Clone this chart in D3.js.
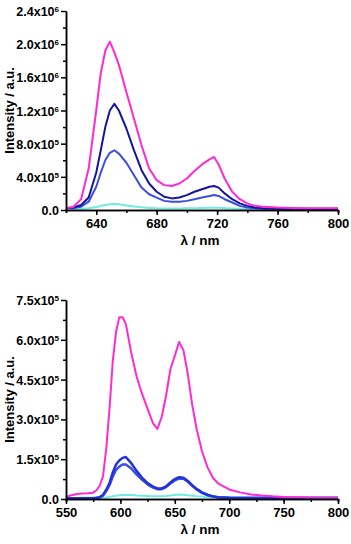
<!DOCTYPE html>
<html>
<head>
<meta charset="utf-8">
<script src="https://cdn.jsdelivr.net/npm/d3@7"></script>
<style>
    body { margin: 0; background: #fff; }
    svg text { font-family: "Liberation Sans", Arial, sans-serif; font-weight: bold; }
</style>
</head>
<body>
<div id="chart"></div>
<script>
// ---- top panel data (wavelength nm, intensity a.u.) ----
const topWl = [620, 625, 630, 635, 640, 643, 646, 649, 652, 655, 660, 665, 670, 675, 680, 685, 690, 695,
    700, 705, 710, 715, 718, 721, 725, 730, 735, 740, 745, 750, 760, 770, 780, 790, 800];
const topMagenta = [0.02, 0.04, 0.13, 0.5, 1.2, 1.65, 1.92, 2.03, 1.9, 1.75, 1.42, 1.1, 0.78, 0.5, 0.36, 0.3, 0.29, 0.32,
    0.38, 0.47, 0.55, 0.61, 0.64, 0.55, 0.38, 0.22, 0.13, 0.08, 0.05, 0.04, 0.03, 0.025, 0.02, 0.02, 0.02].map(v => v * 1e6);
const topNavy = [0.02, 0.03, 0.06, 0.15, 0.45, 0.72, 1.0, 1.2, 1.28, 1.2, 0.98, 0.72, 0.48, 0.32, 0.22, 0.16, 0.14, 0.15,
    0.18, 0.22, 0.25, 0.28, 0.29, 0.27, 0.2, 0.13, 0.08, 0.05, 0.03, 0.02, 0.015, 0.015, 0.015, 0.015, 0.015].map(v => v * 1e6);
const topBlue = [0.02, 0.025, 0.04, 0.1, 0.28, 0.45, 0.6, 0.69, 0.72, 0.68, 0.57, 0.42, 0.27, 0.19, 0.15, 0.11, 0.1, 0.1,
    0.11, 0.13, 0.15, 0.17, 0.18, 0.17, 0.13, 0.09, 0.05, 0.03, 0.02, 0.015, 0.012, 0.012, 0.012, 0.012, 0.012].map(v => v * 1e6);
const topCyan = [0.01, 0.012, 0.015, 0.02, 0.035, 0.05, 0.06, 0.07, 0.072, 0.068, 0.055, 0.042, 0.032, 0.025, 0.02, 0.018, 0.018, 0.018,
    0.02, 0.022, 0.024, 0.026, 0.027, 0.026, 0.022, 0.018, 0.015, 0.013, 0.012, 0.012, 0.01, 0.01, 0.01, 0.01, 0.01].map(v => v * 1e6);
const topXTicks = [640, 680, 720, 760, 800];
const topYTicks = [0, 4e5, 8e5, 1.2e6, 1.6e6, 2.0e6, 2.4e6];
const topYLabels = [["0.0", ""], ["4.0x10", "5"], ["8.0x10", "5"], ["1.2x10", "6"], ["1.6x10", "6"], ["2.0x10", "6"], ["2.4x10", "6"]];

// ---- bottom panel data ----
const botWl = [550, 555, 560, 565, 570, 575, 578, 581, 584, 587, 590, 593, 596, 599, 602, 605, 610, 615, 620, 625,
    630, 634, 638, 642, 646, 650, 654, 658, 662, 666, 670, 675, 680, 685, 690, 700, 710, 720, 730, 740, 750, 760, 770, 780, 790, 800];
const botMagenta = [0.08, 0.14, 0.19, 0.21, 0.22, 0.24, 0.33, 0.5, 0.85, 1.9, 3.4, 5.2, 6.3, 6.85, 6.85, 6.6, 5.5, 4.6, 3.95, 3.4,
    2.85, 2.64, 3.1, 3.9, 4.9, 5.4, 5.92, 5.6, 4.7, 3.55, 2.65, 1.8, 1.2, 0.8, 0.58, 0.36, 0.25, 0.17, 0.13, 0.1, 0.08, 0.07, 0.06, 0.05, 0.05, 0.05].map(v => v * 1e5);
const botNavy = [0.03, 0.03, 0.03, 0.03, 0.03, 0.04, 0.05, 0.07, 0.15, 0.35, 0.6, 1.0, 1.3, 1.45, 1.55, 1.58, 1.35, 1.05, 0.8, 0.6,
    0.47, 0.4, 0.4, 0.48, 0.62, 0.75, 0.82, 0.8, 0.68, 0.52, 0.38, 0.25, 0.16, 0.1, 0.07, 0.05, 0.04, 0.04, 0.04, 0.04, 0.04, 0.04, 0.04, 0.04, 0.04, 0.04].map(v => v * 1e5);
const botBlue = [0.03, 0.03, 0.03, 0.03, 0.03, 0.03, 0.04, 0.06, 0.13, 0.3, 0.52, 0.85, 1.1, 1.22, 1.3, 1.3, 1.15, 0.92, 0.72, 0.55,
    0.43, 0.37, 0.37, 0.45, 0.58, 0.7, 0.77, 0.76, 0.65, 0.5, 0.36, 0.23, 0.15, 0.09, 0.06, 0.045, 0.04, 0.04, 0.04, 0.04, 0.04, 0.04, 0.04, 0.04, 0.04, 0.04].map(v => v * 1e5);
const botCyan = [0.04, 0.04, 0.04, 0.045, 0.045, 0.05, 0.05, 0.05, 0.05, 0.06, 0.08, 0.1, 0.12, 0.14, 0.15, 0.16, 0.15, 0.13, 0.12, 0.11,
    0.1, 0.1, 0.1, 0.11, 0.13, 0.15, 0.17, 0.16, 0.14, 0.12, 0.1, 0.09, 0.08, 0.075, 0.07, 0.06, 0.06, 0.06, 0.06, 0.06, 0.06, 0.06, 0.06, 0.06, 0.06, 0.06].map(v => v * 1e5);
const botXTicks = [550, 600, 650, 700, 750, 800];
const botYTicks = [0, 1.5e5, 3.0e5, 4.5e5, 6.0e5, 7.5e5];
const botYLabels = [["0.0", ""], ["1.5x10", "5"], ["3.0x10", "5"], ["4.5x10", "5"], ["6.0x10", "5"], ["7.5x10", "5"]];

const colors = { magenta: "#ff2ad4", navy: "#1414a0", blue: "#3a4fe0", blue2: "#2233d8", cyan: "#70ece0" };

const svg = d3.select("#chart").append("svg")
    .attr("width", 351)
    .attr("height", 544);

function drawPanel(p) {
    const x = d3.scaleLinear().domain(p.xDomain).range([66, 338]);
    const y = d3.scaleLinear().domain(p.yDomain).range([p.bottom, p.top]);
    const g = svg.append("g");

    // series
    const line = d3.line()
        .x((d, i) => x(p.wl[i]))
        .y(d => y(d));
    p.series.forEach(s => {
        g.append("path")
            .datum(s.values)
            .attr("fill", "none")
            .attr("stroke", s.color)
            .attr("stroke-width", s.width || 2)
            .attr("stroke-linejoin", "round")
            .attr("d", line);
    });

    // minor ticks x
    const xMinor = [];
    for (let v = p.xDomain[0]; v <= p.xDomain[1]; v += p.xMinorStep) xMinor.push(v);
    g.append("g")
        .attr("transform", "translate(0," + p.bottom + ")")
        .call(d3.axisBottom(x).tickValues(xMinor).tickSize(3).tickFormat(""))
        .call(a => a.selectAll("path, line").attr("stroke", "#000").attr("stroke-width", 1.5));

    // major x axis
    const xAxis = g.append("g")
        .attr("transform", "translate(0," + p.bottom + ")")
        .call(d3.axisBottom(x).tickValues(p.xTicks).tickSize(5).tickSizeOuter(0).tickPadding(4));
    xAxis.selectAll("path, line").attr("stroke", "#000").attr("stroke-width", 1.5);
    xAxis.selectAll("text").attr("font-size", 13).attr("fill", "#000");

    // minor y ticks
    const yMinor = [];
    for (let i = 0; i < p.yTicks.length - 1; i++) yMinor.push((p.yTicks[i] + p.yTicks[i + 1]) / 2);
    g.append("g")
        .attr("transform", "translate(66,0)")
        .call(d3.axisLeft(y).tickValues(yMinor).tickSize(3).tickFormat("").tickSizeOuter(0))
        .call(a => a.selectAll("path, line").attr("stroke", "#000").attr("stroke-width", 1.5));

    // major y axis
    const yAxis = g.append("g")
        .attr("transform", "translate(66,0)")
        .call(d3.axisLeft(y).tickValues(p.yTicks).tickSize(5).tickSizeOuter(0).tickFormat(""));
    yAxis.selectAll("path, line").attr("stroke", "#000").attr("stroke-width", 1.5);
    yAxis.selectAll(".tick").each(function (d, i) {
        const t = d3.select(this).append("text")
            .attr("x", -7)
            .attr("dy", "0.36em")
            .attr("text-anchor", "end")
            .attr("font-size", 12.5)
            .attr("fill", "#000");
        t.append("tspan").text(p.yLabels[i][0]);
        if (p.yLabels[i][1]) {
            t.append("tspan").attr("dy", "-0.5em").attr("font-size", 8).text(p.yLabels[i][1]);
        }
    });

    // axis titles
    g.append("text")
        .attr("transform", "translate(14," + ((p.top + p.bottom) / 2) + ") rotate(-90)")
        .attr("text-anchor", "middle")
        .attr("font-size", 13)
        .attr("fill", "#000")
        .text("Intensity / a.u.");
    g.append("text")
        .attr("x", 200)
        .attr("y", p.bottom + 35)
        .attr("text-anchor", "middle")
        .attr("font-size", 13.5)
        .attr("fill", "#000")
        .text("λ / nm");
}

drawPanel({
    wl: topWl, xDomain: [620, 800], xTicks: topXTicks, xMinorStep: 20,
    yDomain: [0, 2.4e6], yTicks: topYTicks, yLabels: topYLabels,
    top: 11, bottom: 210,
    series: [
        { values: topCyan, color: colors.cyan },
        { values: topBlue, color: colors.blue },
        { values: topNavy, color: colors.navy },
        { values: topMagenta, color: colors.magenta }
    ]
});

drawPanel({
    wl: botWl, xDomain: [550, 800], xTicks: botXTicks, xMinorStep: 25,
    yDomain: [0, 7.5e5], yTicks: botYTicks, yLabels: botYLabels,
    top: 300, bottom: 499,
    series: [
        { values: botCyan, color: colors.cyan },
        { values: botBlue, color: colors.blue, width: 2.5 },
        { values: botNavy, color: colors.blue2, width: 2.5 },
        { values: botMagenta, color: colors.magenta }
    ]
});
</script>
</body>
</html>
